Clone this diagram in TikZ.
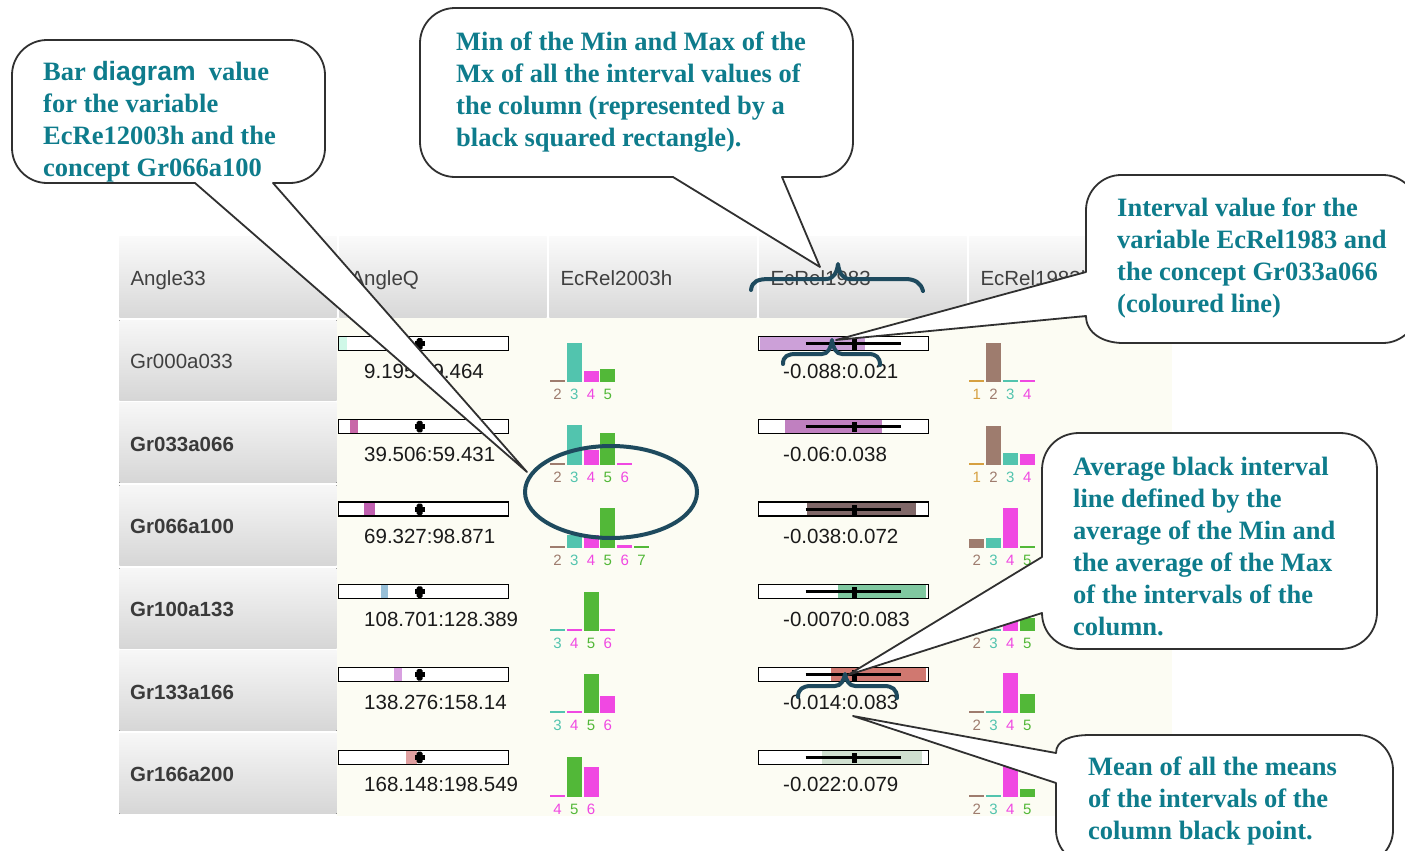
\documentclass[tikz,border=0pt]{standalone}
\usepackage{fontspec}
\setmainfont{Liberation Serif}
\newfontfamily\uisans{Liberation Sans}
\usetikzlibrary{calc}

% palette
\definecolor{callteal}{RGB}{14,124,140}
\definecolor{annoblue}{RGB}{30,74,94}
\definecolor{cream}{RGB}{252,252,243}
\definecolor{outline}{RGB}{48,48,48}
\definecolor{hdgray}{RGB}{64,64,64}
\definecolor{valgray}{RGB}{26,26,26}
\definecolor{barteal}{RGB}{82,196,174}
\definecolor{barmag}{RGB}{240,72,226}
\definecolor{bargreen}{RGB}{82,184,56}
\definecolor{barbrown}{RGB}{158,124,110}
\definecolor{barorange}{RGB}{214,160,64}
% interval segments, AngleQ column
\definecolor{aq1}{RGB}{208,248,232}
\definecolor{aq2}{RGB}{200,104,168}
\definecolor{aq3}{RGB}{192,96,176}
\definecolor{aq4}{RGB}{152,192,216}
\definecolor{aq5}{RGB}{216,160,224}
\definecolor{aq6}{RGB}{224,160,160}
% interval segments, EcRel1983 column
\definecolor{ec1}{RGB}{204,160,216}
\definecolor{ec2}{RGB}{192,128,192}
\definecolor{ec3}{RGB}{128,104,104}
\definecolor{ec4}{RGB}{128,200,160}
\definecolor{ec5}{RGB}{208,120,112}
\definecolor{ec6}{RGB}{208,224,208}

\tikzset{
  hdrshade/.style={top color={rgb,255:red,250;green,250;blue,250}, bottom color={rgb,255:red,216;green,216;blue,216}},
  rowshade/.style={top color={rgb,255:red,247;green,247;blue,247}, bottom color={rgb,255:red,214;green,214;blue,214}},
  hdrtext/.style={anchor=base west, inner sep=0pt, text=hdgray, font=\uisans\fontsize{20.5}{24}\selectfont},
  rowtext/.style={anchor=base west, inner sep=0pt, text=hdgray, font=\uisans\fontsize{20.5}{24}\selectfont},
  rowbold/.style={anchor=base west, inner sep=0pt, text=hdgray!90!black, font=\uisans\bfseries\fontsize{20.5}{24}\selectfont},
  valtext/.style={anchor=base west, inner sep=0pt, text=valgray, font=\uisans\fontsize{20.5}{24}\selectfont},
  barlab/.style={inner sep=0pt, font=\uisans\fontsize{15}{18}\selectfont},
  boxline/.style={draw=black, line width=1.3pt},
  callout/.style={fill=white, draw=outline, line width=1.8pt, line join=round},
  % multi-line text: the base anchor sits on the last line
  ctext/.style={anchor=base west, inner sep=0pt, align=left, text=callteal,
    font=\bfseries\fontsize{26.5}{32}\selectfont},
  annot/.style={draw=annoblue, line width=4pt, line cap=round, line join=round}
}

% one bar diagram: #1 name prefix, #2 left x, #3 baseline y, #4 list pos/height/colour/label
\newcommand\barset[4]{%
  \foreach \bp/\bh/\bc/\bl in {#4}{%
    \fill[\bc] ({#2+16.8*\bp},#3) rectangle ({#2+16.8*\bp+15},{#3-\bh});
    \node[barlab,text=\bc] (#1-\bp) at ({#2+16.8*\bp+7.5},#3+12) {\bl};
  }}

\begin{document}
\begin{tikzpicture}[x=1pt,y=-1pt]
\useasboundingbox (0,0) rectangle (1405,851);
\clip (0,0) rectangle (1405,851);
\fill[white] (0,0) rectangle (1405,851);

% data area
\fill[cream] (337,318) rectangle (1172,816);

% column headers
\foreach \n/\x/\w/\t in {1/119.3/217.4/Angle33, 2/339.3/207.4/AngleQ,
    3/549.3/207.4/EcRel2003h, 4/759.3/207.4/EcRel1983, 5/969.3/207.4/EcRel1983h}{
  \fill[hdrshade] (\x,236.7) rectangle ++(\w,80.6);
  \node[hdrtext] (hd\n) at (\x+11,285) {\t};
}

% row headers
\foreach \i/\lab/\st in {1/Gr000a033/rowtext, 2/Gr033a066/rowbold, 3/Gr066a100/rowbold,
    4/Gr100a133/rowbold, 5/Gr133a166/rowbold, 6/Gr166a200/rowbold}{
  \pgfmathsetmacro\t{320+82.7*(\i-1)}
  \fill[rowshade] (119.3,\t) rectangle ++(217.4,80);
  \node[\st] (rl\i) at (130,\t+48.3) {\lab};
}

% interval cells
\foreach \i/\aqt/\aqa/\aqb/\ect/\eca/\ecb in {
    1/9.195:29.464/339.3/346.7/-0.088:0.021/759.7/865,
    2/39.506:59.431/350/358.3/-0.06:0.038/785/881.7,
    3/69.327:98.871/364/375/-0.038:0.072/806.7/915.7,
    4/108.701:128.389/380.7/388.3/-0.0070:0.083/837.7/926,
    5/138.276:158.14/394/402.3/-0.014:0.083/830.7/926,
    6/168.148:198.549/405.7/416.7/-0.022:0.079/822.3/921.7}{
  \pgfmathsetmacro\t{320+82.7*(\i-1)+16.7}
  % AngleQ
  \fill[white] (338.7,\t) rectangle (508.3,\t+14);
  \fill[aq\i] (\aqa,\t) rectangle (\aqb,\t+14);
  \draw[boxline] (338.7,\t) rectangle (508.3,\t+14);
  \fill[black, rounded corners=1.5pt] (416.7,\t+1.5) rectangle (422.7,\t+13);
  \fill[black] (414.7,\t+4.5) rectangle (424.7,\t+9.5);
  \node[valtext] (aqv\i) at (364,\t+41.6) {\aqt};
  % EcRel1983
  \fill[white] (758.3,\t) rectangle (928.3,\t+14);
  \fill[ec\i] (\eca,\t) rectangle (\ecb,\t+14);
  \draw[boxline] (758.3,\t) rectangle (928.3,\t+14);
  \draw[black, line width=3pt] (805.7,\t+7) -- (901,\t+7);
  \fill[black] (851.7,\t+2.5) rectangle (856.7,\t+13);
  \node[valtext] (ecv\i) at (783,\t+41.6) {\ect};
}

% bar diagrams, EcRel2003h
\barset{ba1}{550}{382}{0/2/barbrown/2, 1/39/barteal/3, 2/11/barmag/4, 3/13/bargreen/5}
\barset{ba2}{550}{465}{0/2/barbrown/2, 1/40/barteal/3, 2/15/barmag/4, 3/32/bargreen/5, 4/2/barmag/6}
\barset{ba3}{550}{548}{0/2/barbrown/2, 1/13/barteal/3, 2/13/barmag/4, 3/40/bargreen/5, 4/3/barmag/6, 5/2/bargreen/7}
\barset{ba4}{550}{631}{0/2/barteal/3, 1/2/barmag/4, 2/39/bargreen/5, 3/2.5/barmag/6}
\barset{ba5}{550}{713}{0/2/barteal/3, 1/2.5/barmag/4, 2/39/bargreen/5, 3/17/barmag/6}
\barset{ba6}{550}{797}{0/2/barmag/4, 1/40/bargreen/5, 2/30/barmag/6}

% bar diagrams, last column
\barset{bb1}{969.3}{382}{0/2/barorange/1, 1/39/barbrown/2, 2/2.5/barteal/3, 3/2/barmag/4}
\barset{bb2}{969.3}{465}{0/2/barorange/1, 1/39/barbrown/2, 2/12/barteal/3, 3/11/barmag/4}
\barset{bb3}{969.3}{548}{0/9/barbrown/2, 1/10/barteal/3, 2/40/barmag/4, 3/2/bargreen/5}
\barset{bb4}{969.3}{631}{0/2/barbrown/2, 1/2/barteal/3, 2/24/barmag/4, 3/13/bargreen/5}
\barset{bb5}{969.3}{713}{0/2/barbrown/2, 1/2.5/barteal/3, 2/40/barmag/4, 3/19/bargreen/5}
\barset{bb6}{969.3}{797}{0/2/barbrown/2, 1/2.5/barteal/3, 2/32/barmag/4, 3/8.5/bargreen/5}

% callouts
\draw[callout] (273,183) -- (290,183) .. controls (309.3,183) and (325,167.3) .. (325,148)
  -- (325,75) .. controls (325,55.7) and (309.3,40) .. (290,40)
  -- (47,40) .. controls (27.7,40) and (12,55.7) .. (12,75)
  -- (12,148) .. controls (12,167.3) and (27.7,183) .. (47,183)
  -- (195,183) -- (527,472) -- cycle;
\draw[callout] (782,177) -- (818,177) .. controls (837.3,177) and (853,161.3) .. (853,142)
  -- (853,43) .. controls (853,23.7) and (837.3,8) .. (818,8)
  -- (455,8) .. controls (435.7,8) and (420,23.7) .. (420,43)
  -- (420,142) .. controls (420,161.3) and (435.7,177) .. (455,177)
  -- (673,177) -- (820,267) -- cycle;
\draw[callout] (1086,316) .. controls (1086,333) and (1103,343) .. (1123,343)
  -- (1383,343) .. controls (1402,343) and (1418,327) .. (1418,308)
  -- (1418,210) .. controls (1418,191) and (1402,175) .. (1383,175)
  -- (1121,175) .. controls (1102,175) and (1086,191) .. (1086,210)
  -- (1086,272) -- (836,340) -- cycle;
\draw[callout] (1042,613) .. controls (1042,633) and (1058,649) .. (1080,649)
  -- (1340,649) .. controls (1361,649) and (1377,633) .. (1377,612)
  -- (1377,470) .. controls (1377,449) and (1361,433) .. (1340,433)
  -- (1079,433) .. controls (1058,433) and (1042,449) .. (1042,470)
  -- (1042,557) -- (848,675) -- cycle;
\draw[callout] (1056,783) -- (1056,830) .. controls (1056,849) and (1072,865) .. (1091,865)
  -- (1358,865) .. controls (1377,865) and (1393,849) .. (1393,830)
  -- (1393,770) .. controls (1393,751) and (1377,735) .. (1358,735)
  -- (1090,735) .. controls (1071,735) and (1056,740) .. (1056,753)
  -- (853,716) -- cycle;

\node[ctext] (c1t) at (43,176) {Bar {\uisans diagram}\ \ value\\for the variable\\EcRe12003h and the\\concept Gr066a100};
\node[ctext] (c2t) at (456,146) {Min of the Min and Max of the\\Mx of all the interval values of\\the column (represented by a\\black squared rectangle).};
\node[ctext] (c3t) at (1117,312) {Interval value for the\\variable EcRel1983 and\\the concept Gr033a066\\(coloured line)};
\node[ctext] (c4t) at (1073,635) {Average black interval\\line defined by the\\average of the Min and\\the average of the Max\\of the intervals of the\\column.};
\node[ctext] (c5t) at (1088,839) {Mean of all the means\\of the intervals of the\\column black point.};

% highlight marks
\draw[annot] (611,492) ellipse [x radius=86pt, y radius=46pt];
\draw[annot] (751,290) .. controls (752,281) and (758,279) .. (770,279) -- (826,279)
  .. controls (834,279) and (837,272) .. (838,264) .. controls (839,272) and (842,279) .. (850,279)
  -- (905,279) .. controls (915,279) and (921,283) .. (923,291);
\draw[annot] (783,364) .. controls (783,356) and (788,354) .. (796,354) -- (822,354)
  .. controls (828,354) and (831,348) .. (832,340) .. controls (833,348) and (836,354) .. (842,354)
  -- (868,354) .. controls (876,354) and (880,357) .. (880,365);
\draw[annot] (798,697) .. controls (798,689) and (803,686) .. (811,686) -- (835,686)
  .. controls (841,686) and (844,680) .. (845,674) .. controls (846,680) and (849,686) .. (855,686)
  -- (884,686) .. controls (892,686) and (897,689) .. (897,698);
\end{tikzpicture}
\end{document}
